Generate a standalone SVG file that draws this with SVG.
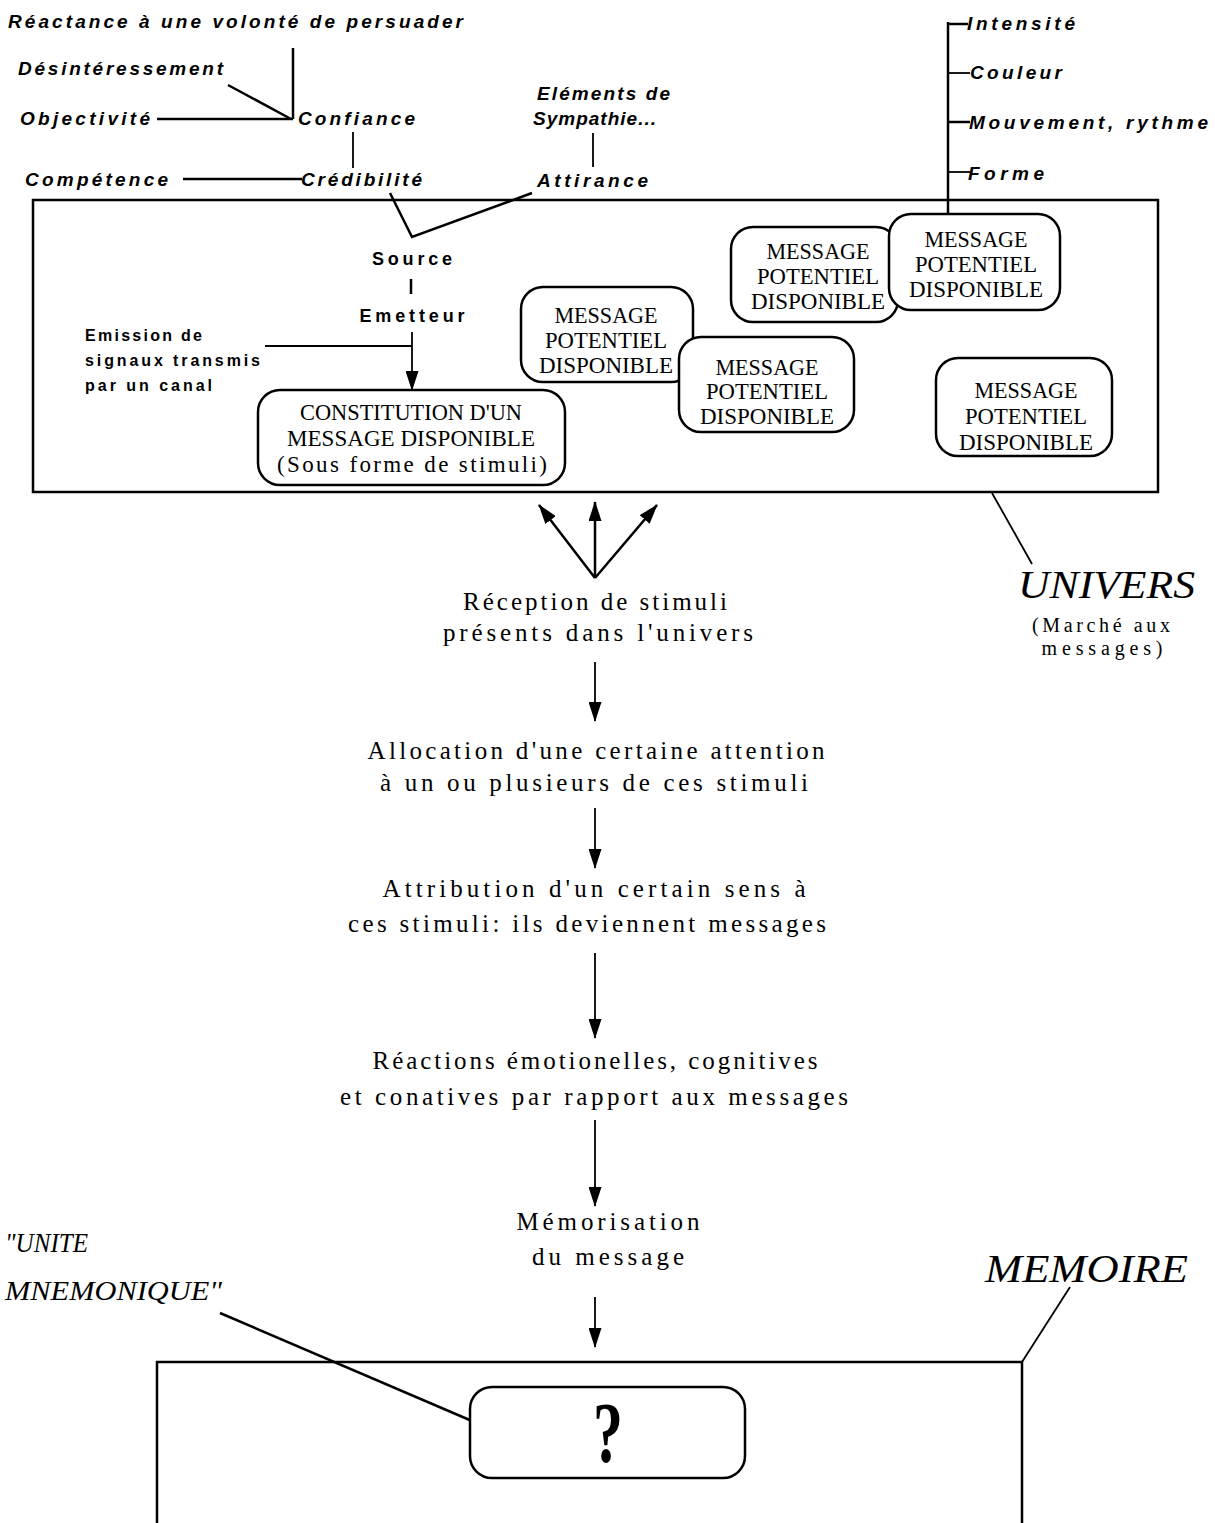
<svg xmlns="http://www.w3.org/2000/svg" width="1215" height="1523" viewBox="0 0 1215 1523">
<defs>
<style>
.lbl{font-family:"Liberation Sans",Arial,sans-serif;font-style:italic;font-weight:bold;font-size:19px;fill:#000}
.src{font-family:"Liberation Sans",Arial,sans-serif;font-weight:bold;font-size:18px;fill:#000}
.em{font-family:"Liberation Sans",Arial,sans-serif;font-weight:bold;font-size:16px;fill:#000}
.flow{font-family:"Liberation Serif","Times New Roman",serif;font-size:25px;fill:#000}
.msg{font-family:"Liberation Serif","Times New Roman",serif;font-size:23px;fill:#000}
.big{font-family:"Liberation Serif","Times New Roman",serif;font-style:italic;font-size:40px;fill:#000}
.ital{font-family:"Liberation Serif","Times New Roman",serif;font-style:italic;font-size:28px;fill:#000}
.small{font-family:"Liberation Serif","Times New Roman",serif;font-size:20px;fill:#000}
.box{fill:#fff;stroke:#000;stroke-width:2.5}
.frame{fill:none;stroke:#000;stroke-width:2.5}
.ln{fill:none;stroke:#000;stroke-width:2.5}
.thin{fill:none;stroke:#000;stroke-width:1.8}
.c{text-anchor:middle}
</style>
<marker id="ah" viewBox="0 0 20 13" refX="19" refY="6.5" markerWidth="20" markerHeight="13" markerUnits="userSpaceOnUse" orient="auto">
<path d="M0,0 L20,6.5 L0,13 z" fill="#000"/>
</marker>
</defs>
<rect width="1215" height="1523" fill="#fff"/>

<g id="univers-frame"><rect class="frame" x="33" y="200" width="1125" height="292"/></g>
<g id="memoire-frame"><path class="frame" d="M157,1523 V1362 H1022 V1523" stroke-width="3"/></g>

<g id="connectors">
<line class="ln" x1="293" y1="48" x2="293" y2="119"/>
<line class="ln" x1="228" y1="85" x2="291" y2="119"/>
<line class="ln" x1="157" y1="119" x2="293" y2="119"/>
<line class="thin" x1="353" y1="132" x2="353" y2="168"/>
<line class="ln" x1="183" y1="179" x2="302" y2="179"/>
<line class="thin" x1="593" y1="133" x2="593" y2="167"/>
<polyline class="ln" points="390,193 412,237 532,193"/>
<line class="ln" x1="948" y1="22" x2="948" y2="215"/>
<line class="ln" x1="948" y1="24" x2="968" y2="24"/>
<line class="thin" x1="948" y1="73" x2="970" y2="73"/>
<line class="ln" x1="948" y1="122" x2="970" y2="122"/>
<line class="thin" x1="948" y1="172" x2="970" y2="172"/>
<line class="ln" x1="411" y1="279" x2="411" y2="294"/>
<line class="thin" x1="412" y1="332" x2="412" y2="390" marker-end="url(#ah)"/>
<line class="thin" x1="265" y1="346" x2="412" y2="346"/>
<line class="ln" x1="595" y1="578" x2="539" y2="505" marker-end="url(#ah)"/>
<line class="ln" x1="595" y1="578" x2="595" y2="502" marker-end="url(#ah)"/>
<line class="ln" x1="595" y1="578" x2="657" y2="505" marker-end="url(#ah)"/>
<line class="thin" x1="992" y1="493" x2="1032" y2="564"/>
<line class="thin" x1="595" y1="662" x2="595" y2="721" marker-end="url(#ah)"/>
<line class="thin" x1="595" y1="808" x2="595" y2="868" marker-end="url(#ah)"/>
<line class="thin" x1="595" y1="953" x2="595" y2="1038" marker-end="url(#ah)"/>
<line class="thin" x1="595" y1="1120" x2="595" y2="1206" marker-end="url(#ah)"/>
<line class="thin" x1="595" y1="1297" x2="595" y2="1347" marker-end="url(#ah)"/>
<line class="ln" x1="220" y1="1313" x2="479" y2="1424"/>
<line class="thin" x1="1070" y1="1287" x2="1022" y2="1362"/>
</g>

<g id="top-labels">
<text class="lbl" x="8" y="28" textLength="455" lengthAdjust="spacing">Réactance à une volonté de persuader</text>
<text class="lbl" x="18" y="75" textLength="205" lengthAdjust="spacing">Désintéressement</text>
<text class="lbl" x="20" y="125" textLength="130" lengthAdjust="spacing">Objectivité</text>
<text class="lbl" x="298" y="125" textLength="117" lengthAdjust="spacing">Confiance</text>
<text class="lbl" x="25" y="186" textLength="143" lengthAdjust="spacing">Compétence</text>
<text class="lbl" x="301" y="186" textLength="121" lengthAdjust="spacing">Crédibilité</text>
<text class="lbl" x="537" y="100" textLength="133" lengthAdjust="spacing">Eléments de</text>
<text class="lbl" x="533" y="125" textLength="123" lengthAdjust="spacing">Sympathie...</text>
<text class="lbl" x="537" y="187" textLength="111" lengthAdjust="spacing">Attirance</text>
<text class="lbl" x="967" y="30" textLength="108" lengthAdjust="spacing">Intensité</text>
<text class="lbl" x="970" y="79" textLength="92" lengthAdjust="spacing">Couleur</text>
<text class="lbl" x="969" y="129" textLength="239" lengthAdjust="spacing">Mouvement, rythme</text>
<text class="lbl" x="968" y="180" textLength="76" lengthAdjust="spacing">Forme</text>
</g>

<g id="source">
<text class="src c" x="412" y="265" textLength="80" lengthAdjust="spacing">Source</text>
<text class="src c" x="412" y="322" textLength="105" lengthAdjust="spacing">Emetteur</text>
</g>
<g id="emission">
<text class="em" x="85" y="341" textLength="117" lengthAdjust="spacing">Emission de</text>
<text class="em" x="85" y="366" textLength="175" lengthAdjust="spacing">signaux transmis</text>
<text class="em" x="85" y="391" textLength="127" lengthAdjust="spacing">par un canal</text>
</g>

<g id="constitution">
<rect class="box" x="258" y="390" width="307" height="95" rx="22"/>
<text class="msg c" x="411" y="420" textLength="222" lengthAdjust="spacingAndGlyphs">CONSTITUTION D'UN</text>
<text class="msg c" x="411" y="446" textLength="248" lengthAdjust="spacingAndGlyphs">MESSAGE DISPONIBLE</text>
<text class="msg c" x="412" y="472" textLength="270" lengthAdjust="spacing">(Sous forme de stimuli)</text>
</g>

<g id="message-a">
<rect class="box" x="521" y="287" width="172" height="95" rx="22"/>
<text class="msg c" x="606" y="323" textLength="103" lengthAdjust="spacingAndGlyphs">MESSAGE</text>
<text class="msg c" x="606" y="348" textLength="122" lengthAdjust="spacingAndGlyphs">POTENTIEL</text>
<text class="msg c" x="606" y="373" textLength="134" lengthAdjust="spacingAndGlyphs">DISPONIBLE</text>
</g>
<g id="message-b">
<rect class="box" x="679" y="337" width="175" height="95" rx="22"/>
<text class="msg c" x="767" y="375" textLength="103" lengthAdjust="spacingAndGlyphs">MESSAGE</text>
<text class="msg c" x="767" y="399" textLength="122" lengthAdjust="spacingAndGlyphs">POTENTIEL</text>
<text class="msg c" x="767" y="424" textLength="134" lengthAdjust="spacingAndGlyphs">DISPONIBLE</text>
</g>
<g id="message-c">
<rect class="box" x="731" y="227" width="167" height="95" rx="22"/>
<text class="msg c" x="818" y="259" textLength="103" lengthAdjust="spacingAndGlyphs">MESSAGE</text>
<text class="msg c" x="818" y="284" textLength="122" lengthAdjust="spacingAndGlyphs">POTENTIEL</text>
<text class="msg c" x="818" y="309" textLength="134" lengthAdjust="spacingAndGlyphs">DISPONIBLE</text>
</g>
<g id="message-d">
<rect class="box" x="889" y="214" width="171" height="96" rx="22"/>
<text class="msg c" x="976" y="247" textLength="103" lengthAdjust="spacingAndGlyphs">MESSAGE</text>
<text class="msg c" x="976" y="272" textLength="122" lengthAdjust="spacingAndGlyphs">POTENTIEL</text>
<text class="msg c" x="976" y="297" textLength="134" lengthAdjust="spacingAndGlyphs">DISPONIBLE</text>
</g>
<g id="message-e">
<rect class="box" x="936" y="358" width="176" height="98" rx="22"/>
<text class="msg c" x="1026" y="398" textLength="103" lengthAdjust="spacingAndGlyphs">MESSAGE</text>
<text class="msg c" x="1026" y="424" textLength="122" lengthAdjust="spacingAndGlyphs">POTENTIEL</text>
<text class="msg c" x="1026" y="450" textLength="134" lengthAdjust="spacingAndGlyphs">DISPONIBLE</text>
</g>

<g id="univers-label">
<text class="big" x="1018" y="598" textLength="177" lengthAdjust="spacingAndGlyphs">UNIVERS</text>
<text class="small c" x="1101" y="632" textLength="138" lengthAdjust="spacing">(Marché aux</text>
<text class="small c" x="1102" y="655" textLength="121" lengthAdjust="spacing">messages)</text>
</g>

<g id="step-reception">
<text class="flow c" x="595" y="610" textLength="264" lengthAdjust="spacing">Réception de stimuli</text>
<text class="flow c" x="598" y="641" textLength="310" lengthAdjust="spacing">présents dans l'univers</text>
</g>
<g id="step-allocation">
<text class="flow c" x="596" y="759" textLength="457" lengthAdjust="spacing">Allocation d'une certaine attention</text>
<text class="flow c" x="594" y="791" textLength="428" lengthAdjust="spacing">à un ou plusieurs de ces stimuli</text>
</g>
<g id="step-attribution">
<text class="flow c" x="594" y="897" textLength="423" lengthAdjust="spacing">Attribution d'un certain sens à</text>
<text class="flow c" x="587" y="932" textLength="478" lengthAdjust="spacing">ces stimuli: ils deviennent messages</text>
</g>
<g id="step-reactions">
<text class="flow c" x="595" y="1069" textLength="445" lengthAdjust="spacing">Réactions émotionelles, cognitives</text>
<text class="flow c" x="594" y="1105" textLength="508" lengthAdjust="spacing">et conatives par rapport aux messages</text>
</g>
<g id="step-memorisation">
<text class="flow c" x="608" y="1230" textLength="183" lengthAdjust="spacing">Mémorisation</text>
<text class="flow c" x="608" y="1265" textLength="152" lengthAdjust="spacing">du message</text>
</g>

<g id="unite-label">
<text class="ital" x="5" y="1252" textLength="83" lengthAdjust="spacingAndGlyphs">"UNITE</text>
<text class="ital" x="5" y="1300" textLength="217" lengthAdjust="spacingAndGlyphs">MNEMONIQUE"</text>
</g>
<g id="memoire-label">
<text class="big" x="985" y="1282" textLength="203" lengthAdjust="spacingAndGlyphs">MEMOIRE</text>
</g>
<g id="unite-box">
<rect class="box" x="470" y="1387" width="275" height="91" rx="22"/>
<text class="c" x="608" y="1462" font-family="Liberation Serif, Times New Roman, serif" font-weight="bold" font-size="86" textLength="30" lengthAdjust="spacingAndGlyphs">?</text>
</g>
</svg>
